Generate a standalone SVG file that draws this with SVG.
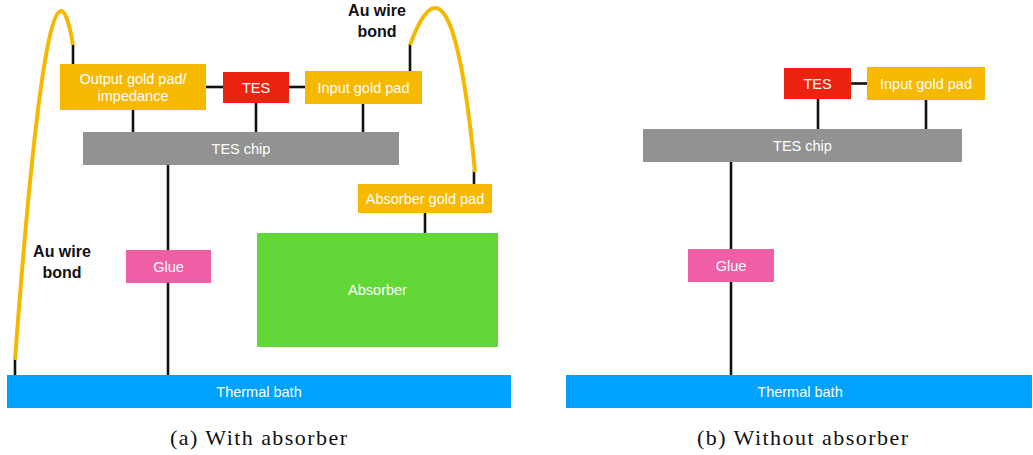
<svg xmlns="http://www.w3.org/2000/svg" width="1033" height="455" viewBox="0 0 1033 455">
<style>
.lbl{font-family:"Liberation Sans",Arial,sans-serif;font-size:14.5px;fill:#fff;text-anchor:middle}
.wl{font-family:"Liberation Sans",Arial,sans-serif;font-size:16px;font-weight:bold;fill:#111;text-anchor:middle}
.cap{font-family:"Liberation Serif","Times New Roman",serif;font-size:22px;fill:#111;text-anchor:middle}
.c{stroke:#111;stroke-width:2.6;fill:none}
.wire{stroke:#F5B800;stroke-width:4;fill:none}
.gold{fill:#F6B900}.tes{fill:#EE2211}.chip{fill:#929292}.glue{fill:#EF5FA6}.abs{fill:#62D838}.bath{fill:#00A2FF}
</style>
<g id="connectors">
<line class="c" x1="73" y1="44" x2="73" y2="65"/>
<line class="c" x1="15" y1="358" x2="15" y2="376"/>
<line class="c" x1="410" y1="44" x2="410" y2="72"/>
<line class="c" x1="474" y1="170" x2="474" y2="185"/>
<line class="c" x1="205" y1="87" x2="224" y2="87"/>
<line class="c" x1="288" y1="87" x2="306" y2="87"/>
<line class="c" x1="133" y1="109" x2="133" y2="133"/>
<line class="c" x1="256" y1="102" x2="256" y2="133"/>
<line class="c" x1="363" y1="103" x2="363" y2="133"/>
<line class="c" x1="168" y1="164" x2="168" y2="376"/>
<line class="c" x1="425" y1="212" x2="425" y2="234"/>
<line class="c" x1="850" y1="83.5" x2="868" y2="83.5"/>
<line class="c" x1="818" y1="98" x2="818" y2="130"/>
<line class="c" x1="926" y1="99" x2="926" y2="130"/>
<line class="c" x1="731" y1="161" x2="731" y2="376"/>
<path class="wire" d="M15,360 Q49,-98 73,45"/>
<path class="wire" d="M410,45 Q452,-70 475,172"/>
</g>
<g id="au-wire-label-top"><text class="wl" x="377" y="16">Au wire</text><text class="wl" x="377" y="37">bond</text></g>
<g id="au-wire-label-left"><text class="wl" x="62" y="257">Au wire</text><text class="wl" x="62" y="278">bond</text></g>
<g id="a-output-pad"><rect class="gold" x="60" y="64" width="146" height="46"/><text class="lbl" x="133" y="84">Output gold pad/</text><text class="lbl" x="133" y="101">impedance</text></g>
<g id="a-tes"><rect class="tes" x="223" y="72" width="66" height="31"/><text class="lbl" x="256" y="92.5">TES</text></g>
<g id="a-input-pad"><rect class="gold" x="305" y="71" width="117" height="33"/><text class="lbl" x="363.5" y="92.5">Input gold pad</text></g>
<g id="a-chip"><rect class="chip" x="83" y="132" width="316" height="33"/><text class="lbl" x="241" y="153.5">TES chip</text></g>
<g id="a-abs-pad"><rect class="gold" x="358" y="184" width="134" height="29"/><text class="lbl" x="425" y="203.5">Absorber gold pad</text></g>
<g id="a-absorber"><rect class="abs" x="257" y="233" width="241" height="114"/><text class="lbl" x="377.5" y="295">Absorber</text></g>
<g id="a-glue"><rect class="glue" x="126" y="250" width="85" height="33"/><text class="lbl" x="168.5" y="271.5">Glue</text></g>
<g id="a-bath"><rect class="bath" x="7" y="375" width="504" height="33"/><text class="lbl" x="259" y="396.5">Thermal bath</text></g>
<g id="b-tes"><rect class="tes" x="784" y="68" width="67" height="31"/><text class="lbl" x="817.5" y="88.5">TES</text></g>
<g id="b-input-pad"><rect class="gold" x="867" y="67" width="118" height="33"/><text class="lbl" x="926" y="88.5">Input gold pad</text></g>
<g id="b-chip"><rect class="chip" x="643" y="129" width="319" height="33"/><text class="lbl" x="802.5" y="150.5">TES chip</text></g>
<g id="b-glue"><rect class="glue" x="688" y="249" width="86" height="33"/><text class="lbl" x="731" y="270.5">Glue</text></g>
<g id="b-bath"><rect class="bath" x="566" y="375" width="466" height="33"/><text class="lbl" x="800" y="396.5">Thermal bath</text></g>
<text class="cap" x="258.5" y="445" textLength="177" lengthAdjust="spacing">(a) With absorber</text>
<text class="cap" x="802.5" y="445" textLength="211" lengthAdjust="spacing">(b) Without absorber</text>
</svg>
